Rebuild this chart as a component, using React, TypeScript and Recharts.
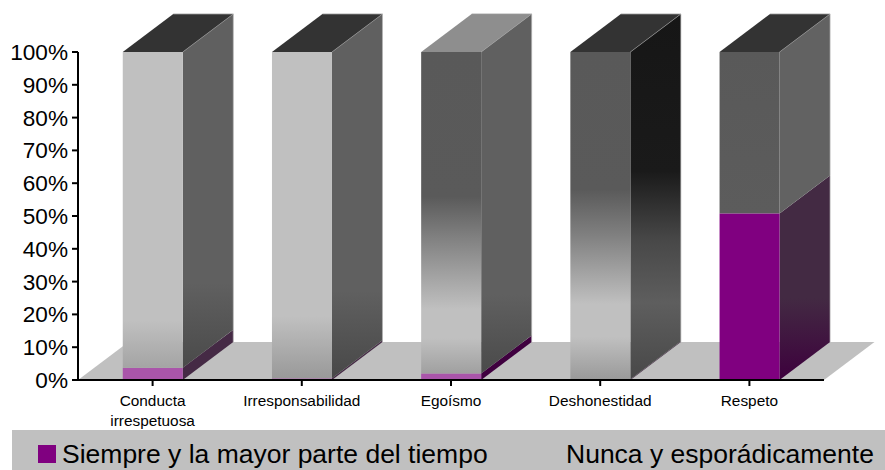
import { BarChart, Bar, XAxis, YAxis, Legend, ReferenceArea } from 'recharts';

const categories = ['Conducta irrespetuosa', 'Irresponsabilidad', 'Egoísmo', 'Deshonestidad', 'Respeto'];
const siempre = [3.7, 0.5, 2, 0.2, 50.8];
const nunca = [96.3, 99.5, 98, 99.8, 49.2];
const yTicks = [0, 10, 20, 30, 40, 50, 60, 70, 80, 90, 100];

const SERIES_SIEMPRE = 'Siempre y la mayor parte del tiempo';
const SERIES_NUNCA = 'Nunca y esporádicamente';

const chartData = categories.map((name, i) => ({ name, siempre: siempre[i], nunca: nunca[i] }));

const FONT = '"Liberation Sans", Arial, sans-serif';
const DX = 50.5;
const DY = 38;

// each bar was shaded differently in the original
const topColors = ['#333333', '#333333', '#8e8e8e', '#333333', '#333333'];
const purpleFront = ['#aa55aa', '#aa55aa', '#aa55aa', '#800080', '#800080'];
const purpleSide = ['#452a45', '#452a45', '#3f003f', '#452a45', 'url(#purpleSide4)'];

const FrontStops: Record<number, [string, string][]> = {
    0: [['0%', '#c0c0c0'], ['85%', '#c0c0c0'], ['100%', '#a4a4a4']],
    1: [['0%', '#c0c0c0'], ['81%', '#c0c0c0'], ['100%', '#999999']],
    2: [['0%', '#595959'], ['45%', '#5a5a5a'], ['57.6%', '#808080'], ['80%', '#c0c0c0'], ['89%', '#c0c0c0'], ['100%', '#a0a0a0']],
    3: [['0%', '#595959'], ['42%', '#5a5a5a'], ['56%', '#808080'], ['77%', '#c0c0c0'], ['87%', '#c0c0c0'], ['100%', '#9a9a9a']],
    4: [['0%', '#595959'], ['100%', '#5c5c5c']],
};
const SideStops: Record<number, [string, string][]> = {
    0: [['0%', '#606060'], ['76%', '#606060'], ['100%', '#4a4a4a']],
    1: [['0%', '#606060'], ['76%', '#606060'], ['100%', '#484848']],
    2: [['0%', '#606060'], ['78%', '#606060'], ['100%', '#4a4a4a']],
    3: [['0%', '#161616'], ['43%', '#1a1a1a'], ['62%', '#484848'], ['79%', '#5e5e5e'], ['100%', '#484848']],
    4: [['0%', '#626262'], ['100%', '#626262']],
};

function Face3D({ x, y, width, height, index, kind }: any) {
    const right = x + width;
    const bottom = y + height;
    const sideFill = kind === 'nunca' ? `url(#side${index})` : purpleSide[index];
    const frontFill = kind === 'nunca' ? `url(#front${index})` : purpleFront[index];
    return (
        <g>
            <polygon
                points={`${right},${y} ${right + DX},${y - DY} ${right + DX},${bottom - DY} ${right},${bottom}`}
                fill={sideFill}
            />
            <rect x={x} y={y} width={width} height={height} fill={frontFill} />
            {kind === 'nunca' && (
                <g>
                    <polygon
                        points={`${x},${y} ${x + DX},${y - DY} ${right + DX},${y - DY} ${right},${y}`}
                        fill={topColors[index]}
                    />
                    <line x1={right} y1={y} x2={right + DX} y2={y - DY} stroke="#9a9a9a" strokeWidth={0.6} />
                    <line x1={x + DX} y1={y - DY} x2={right + DX} y2={y - DY} stroke="#9a9a9a" strokeWidth={0.8} />
                </g>
            )}
            <line x1={right + DX} y1={y - DY} x2={right + DX} y2={bottom - DY} stroke="#b0b0b0" strokeWidth={0.7} />
        </g>
    );
}

function Floor({ x, y, width, height }: any) {
    const bottom = y + height;
    return (
        <polygon
            points={`${x},${bottom} ${x + width},${bottom} ${x + width + DX},${y} ${x + DX},${y}`}
            fill="#c0c0c0"
        />
    );
}

function CategoryTick({ x, y, payload }: any) {
    const words = payload.value === 'Conducta irrespetuosa' ? payload.value.split(' ') : [payload.value];
    return (
        <text x={x} y={y} textAnchor="middle" fontFamily={FONT} fontSize={15.4} fill="#000">
            {words.map((w: string, i: number) => (
                <tspan key={w} x={x} dy={i === 0 ? 18 : 20}>{w}</tspan>
            ))}
        </text>
    );
}

function LegendBand() {
    return (
        <div style={{ position: 'relative', width: 873, height: 40, background: '#c0c0c0', fontFamily: FONT, fontSize: 26.5, color: '#000', lineHeight: '40px', whiteSpace: 'nowrap' }}>
            <div style={{ position: 'absolute', left: 26, top: 15, width: 18, height: 18, background: '#800080' }} />
            <div style={{ position: 'absolute', left: 50, top: 4 }}>{SERIES_SIEMPRE}</div>
            <div style={{ position: 'absolute', left: 554, top: 4 }}>{SERIES_NUNCA}</div>
        </div>
    );
}

export default function App() {
    return (
        <div style={{ position: 'absolute', left: 0, top: 0, width: 885, height: 470, background: '#fff', overflow: 'hidden' }}>
            <BarChart
                width={885}
                height={470}
                data={chartData}
                margin={{ top: 52, right: 61, bottom: 0, left: 0 }}
                barCategoryGap="30%"
            >
                <defs>
                    {categories.map((_, i) => (
                        <linearGradient key={`front${i}`} id={`front${i}`} x1="0" y1="0" x2="0" y2="1">
                            {FrontStops[i].map(([offset, color]) => (
                                <stop key={offset} offset={offset} stopColor={color} />
                            ))}
                        </linearGradient>
                    ))}
                    {categories.map((_, i) => (
                        <linearGradient key={`side${i}`} id={`side${i}`} x1="0" y1="0" x2="0" y2="1">
                            {SideStops[i].map(([offset, color]) => (
                                <stop key={offset} offset={offset} stopColor={color} />
                            ))}
                        </linearGradient>
                    ))}
                    <linearGradient id="purpleSide4" x1="0" y1="0" x2="0" y2="1">
                        <stop offset="0%" stopColor="#432a43" />
                        <stop offset="60%" stopColor="#432a43" />
                        <stop offset="100%" stopColor="#3d003d" />
                    </linearGradient>
                </defs>
                <ReferenceArea y1={0} y2={11.6} shape={<Floor />} stroke="none" fill="#c0c0c0" fillOpacity={1} />
                <XAxis
                    dataKey="name"
                    height={50}
                    interval={0}
                    tick={<CategoryTick />}
                    tickSize={6}
                    axisLine={{ stroke: '#000', strokeWidth: 2 }}
                    tickLine={{ stroke: '#000', strokeWidth: 2 }}
                />
                <YAxis
                    width={78}
                    domain={[0, 100]}
                    ticks={yTicks}
                    interval={0}
                    tickFormatter={(v: number) => `${v}%`}
                    tickSize={6}
                    tickMargin={4}
                    axisLine={{ stroke: '#000', strokeWidth: 2 }}
                    tickLine={{ stroke: '#000', strokeWidth: 2 }}
                    tick={{ fontFamily: FONT, fontSize: 22.6, fill: '#000' }}
                />
                <Legend verticalAlign="bottom" height={40} content={<LegendBand />} wrapperStyle={{ left: 12, width: 873 }} />
                <Bar
                    dataKey="siempre"
                    name={SERIES_SIEMPRE}
                    stackId="a"
                    fill="#800080"
                    isAnimationActive={false}
                    shape={(props: any) => <Face3D {...props} kind="siempre" />}
                />
                <Bar
                    dataKey="nunca"
                    name={SERIES_NUNCA}
                    stackId="a"
                    fill="#c0c0c0"
                    isAnimationActive={false}
                    shape={(props: any) => <Face3D {...props} kind="nunca" />}
                />
            </BarChart>
        </div>
    );
}
